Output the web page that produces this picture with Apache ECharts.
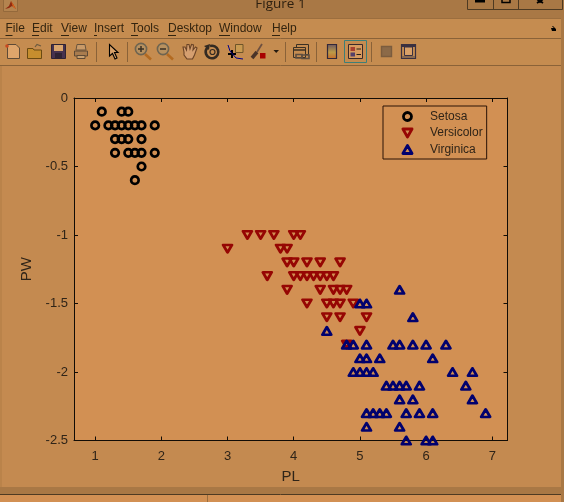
<!DOCTYPE html>
<html>
<head>
<meta charset="utf-8">
<script src="https://cdn.jsdelivr.net/npm/echarts@6/dist/echarts.min.js"></script>
<style>html,body{margin:0;padding:0;background:#C48A50;overflow:hidden}#c{width:564px;height:502px}</style>
</head>
<body>
<div id="c"></div>
<script>
// Data: [PL, PW]
const setosa = [[1.4,-0.2],[1.3,-0.2],[1.5,-0.2],[1.7,-0.4],[1.4,-0.3],[1.5,-0.1],[1.6,-0.2],[1.4,-0.1],[1.1,-0.1],[1.2,-0.2],[1.5,-0.4],[1.3,-0.4],[1.7,-0.3],[1.5,-0.3],[1.7,-0.2],[1.0,-0.2],[1.7,-0.5],[1.9,-0.2],[1.6,-0.4],[1.3,-0.3],[1.6,-0.6],[1.9,-0.4]];
const versicolor = [[4.7,-1.4],[4.5,-1.5],[4.9,-1.5],[4.0,-1.3],[4.6,-1.5],[4.5,-1.3],[4.7,-1.6],[3.3,-1.0],[4.6,-1.3],[3.9,-1.4],[3.5,-1.0],[4.2,-1.5],[4.0,-1.0],[3.6,-1.3],[4.4,-1.4],[4.1,-1.0],[3.9,-1.1],[4.8,-1.8],[4.7,-1.2],[4.3,-1.3],[4.8,-1.4],[5.0,-1.7],[3.8,-1.1],[3.7,-1.0],[3.9,-1.2],[5.1,-1.6],[4.5,-1.6],[4.7,-1.5],[4.4,-1.3],[4.1,-1.3],[4.4,-1.2],[4.6,-1.4],[4.0,-1.2],[4.2,-1.3],[4.2,-1.2],[3.0,-1.1]];
const virginica = [[6.0,-2.5],[5.1,-1.9],[5.9,-2.1],[5.6,-1.8],[5.8,-2.2],[6.6,-2.1],[4.5,-1.7],[6.3,-1.8],[5.8,-1.8],[6.1,-2.5],[5.1,-2.0],[5.3,-1.9],[5.5,-2.1],[5.0,-2.0],[5.1,-2.4],[5.3,-2.3],[5.5,-1.8],[6.7,-2.2],[6.9,-2.3],[5.0,-1.5],[5.7,-2.3],[4.9,-2.0],[6.7,-2.0],[4.9,-1.8],[5.7,-2.1],[6.0,-1.8],[4.8,-1.8],[5.6,-2.1],[5.8,-1.6],[6.1,-1.9],[6.4,-2.0],[5.6,-2.2],[5.1,-1.5],[5.6,-1.4],[6.1,-2.3],[5.6,-2.4],[5.4,-2.1],[5.1,-2.3],[5.9,-2.3],[5.7,-2.5],[5.2,-2.3],[5.0,-1.9],[5.2,-2.0],[5.4,-2.3],[5.1,-1.8]];
const seriesNames = ['Setosa','Versicolor','Virginica'];
const xTicks = [1,2,3,4,5,6,7];
const yTicks = [-2.5,-2,-1.5,-1,-0.5,0];
const menuItems = [['File',5.5,7],['Edit',32,7],['View',61,8],['Insert',94,3],['Tools',131,7],['Desktop',168,8],['Window',219,11],['Help',272,8]];
const windowTitle = 'Figure 1';

// Window chrome helpers
const g = [];
const rect = (x,y,w,h,fill,stroke,lw) => g.push({type:'rect',silent:true,shape:{x,y,width:w,height:h},style:{fill:fill||'none',stroke:stroke||'none',lineWidth:lw||1}});
const line = (x1,y1,x2,y2,stroke,lw) => g.push({type:'line',silent:true,shape:{x1,y1,x2,y2},style:{stroke,lineWidth:lw||1}});
const poly = (points,fill,stroke,lw) => g.push({type:'polygon',silent:true,shape:{points},style:{fill:fill||'none',stroke:stroke||'none',lineWidth:lw||1}});
const pline = (points,stroke,lw) => g.push({type:'polyline',silent:true,shape:{points},style:{fill:'none',stroke,lineWidth:lw||1}});
const circ = (cx,cy,r,fill,stroke,lw) => g.push({type:'circle',silent:true,shape:{cx,cy,r},style:{fill:fill||'none',stroke:stroke||'none',lineWidth:lw||1}});
const text = (t,x,y,font,fill,align) => g.push({type:'text',silent:true,style:{text:t,x,y,font,fill,textAlign:align||'left',textVerticalAlign:'middle'}});

const BAR='#A97845', MENU='#C58C50', RULE='#8A6238', INK='#33240F';
rect(0,0,564,18,BAR);
line(0,18.5,564,18.5,'#9C6E3E');
rect(0,19,561,19,MENU);
line(0,38.5,561,38.5,RULE);
rect(0,39,561,26,MENU);
line(0,65.5,561,65.5,RULE);
rect(561,18,3,484,BAR);
line(1,66,1,487,'#B07C45');
rect(0,487,561,7,BAR);
line(0,494.5,561,494.5,'#4E3A22',1);
rect(0,495,561,7,'#D29053');
line(207.5,495,207.5,502,'#9A6E3E');

// title bar
rect(3.5,-1,14,12.5,'#B4844F','#94693B');
poly([[5,9],[9,6],[11,1],[13,4],[16,9],[12,6],[9,8]],'#8F2A10');
poly([[11,1],[13,4],[16,9],[13,7]],'#D9641C');
text(windowTitle,280.5,4,'13.5px "Open Sans"','#2E2010','center');
rect(467.5,-2,95,11.5,'none','#4E3A22');
line(493.5,0,493.5,9,'#4E3A22');
line(518.5,0,518.5,9,'#4E3A22');
rect(475,-1,10,3.5,'#000');
rect(502,-1,8,3.5,'none','#000',1.5);
pline([[537,-1],[540,2],[543,-1]],'#000',1.8);
pline([[537,3],[540,1],[543,3]],'#000',1.8);

// menu
menuItems.forEach(([t,x,u]) => {
  text(t,x,29,'12px "Liberation Sans"',INK);
  line(x,35.5,x+u,35.5,INK);
});
poly([[551,28],[554,28],[552,26.5],[553,26],[556,29],[556,31],[552,31]],'#000');

// toolbar
[96.5,127.5,285.5,316.5,371.5].forEach(x => line(x,42,x,62,RULE));
// new
poly([[7.5,44.5],[16,44.5],[19.5,48],[19.5,58.5],[7.5,58.5]],'#DFA56B','#5E4A36');
circ(7,46,1.8,'#C84A20');
// open
poly([[27.5,48.5],[33,48.5],[34,50],[41.5,50],[41.5,58.5],[27.5,58.5]],'#C68E2E','#6B4A12');
pline([[35,47],[37,44.5],[41,46]],'#6B5A40',1.2);
// save
rect(51.5,44.5,14,14,'#46324E','#2E2232');
rect(54,45,9,6,'#D9A56C');
rect(55,53,7,5,'#2E2232');
// print
poly([[77,44.5],[85,44.5],[86,50],[76,50]],'#C99A68','#6A543C');
poly([[74.5,51],[87.5,51],[87.5,56],[74.5,56]],'#A97C4E','#5E4A36');
rect(77,55.5,8,3,'#C9A06F','#5E4A36');
// arrow
poly([[109.5,44.5],[109.5,56],[112.5,53.5],[115,59],[117,58],[114.5,52.5],[118,52.5]],'#D9A26A','#000',1.1);
// zoom in/out
[[141,'+'],[163,'-']].forEach(([cx,s]) => {
  line(cx+4,54,cx+10,59.5,'#B36A20',2.6);
  circ(cx,49,5.6,'#B8915F','#6E6450',1.6);
  line(cx-3,49,cx+3,49,'#3A3024',1.5);
  if (s==='+') line(cx,46,cx,52,'#3A3024',1.5);
});
// hand
poly([[184,52],[183,47],[185,47],[186.5,50],[187,44.5],[189,44.5],[190,49],[191.5,44.5],[193.5,45],[193,50],[195.5,47],[197,48],[194.5,55],[192.5,59],[187,59],[184,55]],'#D59F70','#6A4326',1.1);
// rotate
g.push({type:'arc',silent:true,shape:{cx:212,cy:52,r:6.3,startAngle:-1.9,endAngle:3.9},style:{fill:'none',stroke:'#332A22',lineWidth:2.6}});
poly([[204,46],[210,44],[209,50]],'#332A22');
circ(212.5,52,2.5,'none','#332A22',1.2);
// data cursor
rect(235.5,44.5,7.5,8,'#C99A50','#6E5428');
line(228,54,236,54,'#000',2);
line(232,50,232,58,'#000',2);
pline([[228,45],[230,51],[236,58],[243,59]],'#00008C',1);
// brush
line(252,58,257,52,'#4A3428',3.6);
line(257,52,262,44,'#6E5040',1.8);
rect(260,53,5.5,5.5,'#A80000');
poly([[273.5,50],[279,50],[276.2,53]],'#231A10');
// link
rect(296.5,44.5,12,10,'#C58C50','#3A3024');
rect(293.5,47.5,12,10,'#C58C50','#3A3024');
line(294,50,305,50,'#3A3024',1.5);
rect(296,54.5,6,3.5,'none','#5E4E40',1.6);
rect(302,55,7,3.5,'none','#5E4E40',1.6);
// colorbar
g.push({type:'rect',silent:true,shape:{x:327.5,y:44.5,width:9,height:14},style:{stroke:'#33283A',lineWidth:1.2,fill:{type:'linear',x:0,y:0,x2:0,y2:1,colorStops:[{offset:0,color:'#6A5560'},{offset:0.55,color:'#BC9A48'},{offset:1,color:'#C86A28'}]}}});
// legend (pressed)
rect(344.5,40.5,22,22,'none','#3D7F78',1);
rect(348.5,44.5,14,14,'#D89B5F','#3A2A2A');
rect(350.5,47,4.5,4,'#A84030');
rect(350.5,52.5,4.5,4,'#55406A');
line(356.5,49,361,49,'#2A2018');
line(356.5,54.5,361,54.5,'#2A2018');
// plot tools
rect(381.5,46.5,10,10,'#8C6A48','#7B5C3E',1.4);
rect(401.5,44.5,14,14,'#C58C50','#3A3040',1.2);
rect(404.5,47,8,8.5,'#D8A068','#3A3040');
rect(402,45,13,2,'#3A3040');
rect(402,56,13,2,'#8A6A50');

const LABEL='#2F2418', AXIS='#120C05';
const commonX = {type:'value',min:0.68,max:7.23,splitLine:{show:false},
  axisLine:{show:true,onZero:false,lineStyle:{color:AXIS,width:1}},
  axisTick:{show:true,inside:true,length:4,customValues:xTicks,lineStyle:{color:AXIS}}};
const commonY = {type:'value',min:-2.5,max:0,interval:0.5,splitLine:{show:false},
  axisLine:{show:true,onZero:false,lineStyle:{color:AXIS,width:1}},
  axisTick:{show:true,inside:true,length:4,customValues:yTicks,lineStyle:{color:AXIS}}};

const base = (name,data,symbol,color,rot,size,bw) => ({
  name,type:'scatter',data,symbol,symbolRotate:rot,symbolSize:size,clip:false,
  itemStyle:{color:'transparent',borderColor:color,borderWidth:bw,borderJoin:'round',opacity:1},
  emphasis:{disabled:true}
});
const TRI_UP='path://M4 0L8 7L0 7Z';
const TRI_DOWN='path://M0 0L8 0L4 7Z';

const chart = echarts.init(document.getElementById('c'),null,{renderer:'canvas'});
chart.setOption({
  animation:false,
  backgroundColor:'#C48A50',
  textStyle:{fontFamily:'"Liberation Sans"'},
  grid:{left:74,right:56.5,top:98,bottom:61.5,show:true,backgroundColor:'#D29053',borderWidth:0},
  xAxis:[
    Object.assign({},commonX,{position:'bottom',name:'PL',nameLocation:'middle',nameGap:28.5,
      nameTextStyle:{fontSize:15,color:LABEL,fontFamily:'"Liberation Sans"'},
      axisLabel:{show:true,customValues:xTicks,fontSize:13,color:LABEL,margin:9,fontFamily:'"Liberation Sans"',formatter:v=>String(v)}}),
    Object.assign({},commonX,{position:'top',axisLabel:{show:false}})
  ],
  yAxis:[
    Object.assign({},commonY,{position:'left',name:'PW',nameLocation:'middle',nameGap:33,
      nameTextStyle:{fontSize:15,color:LABEL,fontFamily:'"Liberation Sans"'},
      axisLabel:{show:true,fontSize:13,color:LABEL,margin:6,fontFamily:'"Liberation Sans"',formatter:v=>String(v)}}),
    Object.assign({},commonY,{position:'right',axisLabel:{show:false}})
  ],
  legend:{
    show:true,orient:'vertical',left:383,top:106,
    padding:[4.5,4,3.5,18.5],itemWidth:35,itemHeight:8,itemGap:4.5,
    itemStyle:{borderWidth:2.8},
    backgroundColor:'#D29053',borderColor:'#2A1206',borderWidth:1,borderRadius:0,
    selectedMode:false,
    textStyle:{fontSize:12,color:LABEL,fontFamily:'"Liberation Sans"'},
    data:[{name:seriesNames[0],icon:'circle'},{name:seriesNames[1],icon:TRI_DOWN},{name:seriesNames[2],icon:TRI_UP}]
  },
  series:[
    base(seriesNames[0],setosa,'circle','#000000',0,7.5,2.7),
    base(seriesNames[1],versicolor,'triangle','#960603',180,[8.8,7.6],2.7),
    base(seriesNames[2],virginica,'triangle','#01016E',0,[8.8,7.6],2.7)
  ],
  graphic:{elements:g}
});
</script>
</body>
</html>
